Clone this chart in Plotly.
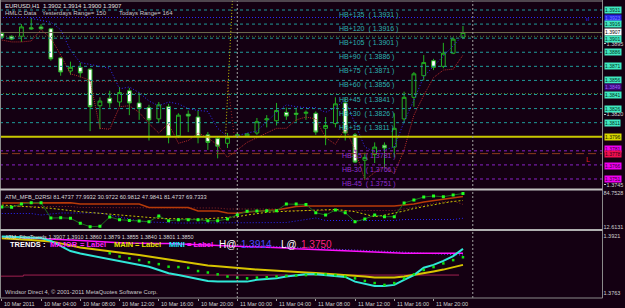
import plotly.graph_objects as go

W, H = 625, 308
BG = "#140012"
FONT = "Liberation Sans, Arial, sans-serif"

def px(x):
    return x / W

def py(y):
    return 1 - y / H

# ---------------- data ----------------
bars = list(range(48))
open_ = [1.3906, 1.3903, 1.3903, 1.3912, 1.3913, 1.3911, 1.3880, 1.3866, 1.3870, 1.3868,
         1.3829, 1.3837, 1.3833, 1.3845, 1.3832, 1.3827, 1.3815, 1.3828, 1.3797, 1.3820,
         1.3817, 1.3798, 1.3794, 1.3789, 1.3797, 1.3797, 1.3800, 1.3814, 1.3813, 1.3822,
         1.3821, 1.3821, 1.3821, 1.3805, 1.3810, 1.3832, 1.3798, 1.3771, 1.3777, 1.3787,
         1.3785, 1.3815, 1.3838, 1.3861, 1.3877, 1.3871, 1.3885, 1.3902]
high = [1.3908, 1.3904, 1.3916, 1.3923, 1.3916, 1.3912, 1.3881, 1.3876, 1.3875, 1.3869,
        1.3838, 1.3845, 1.3849, 1.3848, 1.3843, 1.3830, 1.3833, 1.3831, 1.3821, 1.3824,
        1.3824, 1.3801, 1.3796, 1.3800, 1.3800, 1.3800, 1.3816, 1.3819, 1.3832, 1.3827,
        1.3827, 1.3824, 1.3823, 1.3817, 1.3838, 1.3837, 1.3800, 1.3779, 1.3790, 1.3790,
        1.3821, 1.3844, 1.3865, 1.3883, 1.3879, 1.3896, 1.3902, 1.3914]
low = [1.3901, 1.3899, 1.3897, 1.3910, 1.3910, 1.3877, 1.3861, 1.3862, 1.3859, 1.3802,
       1.3804, 1.3827, 1.3828, 1.3819, 1.3814, 1.3792, 1.3811, 1.3789, 1.3795, 1.3801,
       1.3789, 1.3782, 1.3773, 1.3784, 1.3795, 1.3796, 1.3798, 1.3806, 1.3808, 1.3814,
       1.3812, 1.3814, 1.3798, 1.3787, 1.3806, 1.3792, 1.3768, 1.3751, 1.3768, 1.3763,
       1.3774, 1.3811, 1.3828, 1.3856, 1.3867, 1.3869, 1.3884, 1.3900]
close = [1.3902, 1.3900, 1.3913, 1.3911, 1.3911, 1.3879, 1.3865, 1.3870, 1.3864, 1.3828,
         1.3834, 1.3832, 1.3843, 1.3832, 1.3826, 1.3814, 1.3830, 1.3796, 1.3819, 1.3818,
         1.3796, 1.3790, 1.3786, 1.3795, 1.3798, 1.3799, 1.3812, 1.3815, 1.3824, 1.3818,
         1.3820, 1.3822, 1.3801, 1.3808, 1.3831, 1.3800, 1.3769, 1.3774, 1.3785, 1.3784,
         1.3805, 1.3838, 1.3863, 1.3875, 1.3870, 1.3885, 1.3900, 1.3907]

ma_blue = [None, None, None, 1.3922, 1.3920, 1.3918, 1.3910, 1.3888, 1.3875, 1.3873,
           1.3871, 1.3869, 1.3847, 1.3849, 1.3843, 1.3834, 1.3829, 1.3833, 1.3831, 1.3826,
           1.3824, 1.3823, 1.3805, 1.3796, 1.3797, 1.3800, 1.3802, 1.3812, 1.3822, 1.3830,
           1.3828, 1.3827, 1.3827, 1.3822, 1.3827, 1.3835, 1.3809, 1.3785, 1.3780, 1.3782,
           1.3785, 1.3812, 1.3835, 1.3860, 1.3871, 1.3882, 1.3894, 1.3904]
trail_red = [1.3899, 1.3897, 1.3897, 1.3898, 1.3910, 1.3901, 1.3883, 1.3863, 1.3860, 1.3856,
             1.3805, 1.3804, 1.3828, 1.3829, 1.3822, 1.3810, 1.3800, 1.3810, 1.3789, 1.3792,
             1.3800, 1.3795, 1.3787, 1.3774, 1.3782, 1.3790, 1.3795, 1.3800, 1.3805, 1.3805,
             1.3814, 1.3817, 1.3815, 1.3795, 1.3788, 1.3805, 1.3782, 1.3750, 1.3758, 1.3764,
             1.3757, 1.3782, 1.3819, 1.3840, 1.3859, 1.3867, 1.3868, 1.3883]

hb_up_levels = [1.3931, 1.3916, 1.3901, 1.3886, 1.3871, 1.3856, 1.3841, 1.3826, 1.3811]
hb_up_names = ["HB+135", "HB+120", "HB+105", "HB+90", "HB+75", "HB+60", "HB+45", "HB+30", "HB+15"]
hb_dn_levels = [1.3781, 1.3766, 1.3751]
hb_dn_names = ["HB-15", "HB-30", "HB-45"]
yellow_level = 1.3796
bid_level = 1.3907
red_dash_level = 1.3778
blue_dot_level = 1.3923
green_dot_levels = [1.3903, 1.3842]
prev_mid_level = 1.3855

axis_ticks_main = [1.3895, 1.3820, 1.3745]
box_prices = [1.3931, 1.3923, 1.3916, 1.3907, 1.3901, 1.3886, 1.3871, 1.3856, 1.3849,
              1.3841, 1.3826, 1.3811, 1.3796, 1.3781, 1.3778, 1.3766, 1.3751]
box_bg = ["#40e8c0", "#2424e8", "#40e8c0", "#ffffff", "#40e8c0", "#40e8c0", "#40e8c0",
          "#40e8c0", "#3c0878", "#40e8c0", "#40e8c0", "#40e8c0", "#d8d800", "#f000f0",
          "#f01050", "#f000f0", "#f000f0"]
box_fg = ["#003020", "#8080ff", "#003020", "#000000", "#003020", "#003020", "#003020",
          "#003020", "#a060ff", "#003020", "#003020", "#003020", "#202000", "#300030",
          "#300010", "#300030", "#300030"]
box_nudge = [0, 0, 0, 1, -1, 0, 0, 0, 0, 0, 0, 0, 0, 1.5, -0.5, -1.5, 0]

# panel 2 (ATM_MFB_D2RSI)
rsi_green = [55.4, 55.0, 61.9, 64.8, 64.5, 31.5, 31.9, 31.0, 20.0, 12.61,
             13.5, 33.7, 27.8, 26.1, 25.0, 23.5, 35.9, 25.6, 27.8, 27.5,
             27.9, 25.6, 25.4, 29.3, 38.7, 46.1, 46.7, 47.4, 47.2, 61.9,
             61.7, 60.8, 43.0, 38.0, 48.9, 43.0, 23.5, 29.3, 38.0, 34.3,
             34.5, 64.1, 70.6, 77.1, 79.3, 77.8, 81.47, 84.75]
rsi_brown = [64.1, 64.1, 64.1, 64.8, 64.8, 64.8, 64.8, 64.8, 61.9, 61.9,
             61.9, 61.9, 61.9, 61.9, 61.9, 54.3, 54.3, 54.3, 54.3, 54.3,
             46.7, 46.7, 46.7, 42.4, 41.7, 44.5, 46.7, 47.8, 48.9, 53.2,
             56.5, 57.6, 57.6, 57.6, 57.6, 57.6, 57.6, 57.6, 57.6, 57.6,
             57.6, 59.8, 61.9, 66.3, 69.1, 72.8, 76.1, 77.99]
rsi_yellow = [59.8, 58.5, 57.0, 55.4, 53.9, 52.6, 50.0, 47.2, 45.2, 43.5,
              41.5, 39.8, 38.0, 36.3, 34.3, 32.6, 30.9, 30.2, 29.6, 28.9,
              28.7, 30.0, 31.5, 33.0, 34.3, 38.0, 41.3, 43.9, 45.2, 46.1,
              46.9, 47.8, 48.9, 50.0, 50.2, 47.8, 45.2, 39.8, 34.3, 38.0,
              41.7, 46.7, 52.2, 56.5, 59.8, 64.1, 67.4, 69.73]
rsi_blue = [41.3, 41.3, 41.3, 41.3, 38.0, 40.2, 42.4, 42.4, 42.4, 42.4,
            42.4, 38.0, 33.7, 28.3, 25.0, 22.8, 21.7, 20.6, 20.6, 20.6,
            20.6, 20.6, 20.6, 20.6, 20.6, 21.7, 21.7, 21.7, 21.7, 21.7,
            25.0, 28.3, 31.5, 26.1, 26.1, 26.1, 26.1, 26.1, 26.1, 26.1,
            26.1, 28.3, 28.3, 28.3, 28.3, 28.3, 28.3, 30.97]
rsi_red = [56.5, 56.5, 56.5, 56.5, 56.5, 56.5, 56.5, 56.5, 54.3, 54.3,
           54.3, 54.3, 54.3, 54.3, 54.3, 53.2, 53.2, 53.2, 53.2, 53.2,
           53.2, 53.2, 53.2, 51.1, 51.1, 51.1, 51.1, 51.1, 51.1, 47.8,
           47.8, 47.8, 47.8, 47.8, 47.8, 47.8, 47.8, 47.8, 47.8, 47.8,
           47.8, 51.1, 55.4, 59.8, 63.0, 66.3, 68.5, 60.98]

# panel 3 (ATM_FiboTrends)
ft_cyan = [1.3919, 1.3918, 1.3917, 1.3916, 1.3915, 1.3907, 1.3893, 1.3879, 1.3872, 1.3867,
           1.3861, 1.3856, 1.3852, 1.3848, 1.3843, 1.3836, 1.3827, 1.3818, 1.3813, 1.3808,
           1.3801, 1.3797, 1.3795, 1.3795, 1.3795, 1.3795, 1.3800, 1.3802, 1.3804, 1.3809,
           1.3813, 1.3815, 1.3815, 1.3813, 1.3812, 1.3808, 1.3795, 1.3789, 1.3783, 1.3783,
           1.3786, 1.3800, 1.3813, 1.3833, 1.3841, 1.3852, 1.3865, 1.3885]
ft_yellow = [1.3914, 1.3913, 1.3911, 1.3909, 1.3907, 1.3905, 1.3900, 1.3894, 1.3889, 1.3885,
             1.3882, 1.3879, 1.3876, 1.3872, 1.3868, 1.3864, 1.3860, 1.3856, 1.3850, 1.3846,
             1.3842, 1.3839, 1.3837, 1.3834, 1.3832, 1.3830, 1.3828, 1.3826, 1.3824, 1.3823,
             1.3822, 1.3820, 1.3819, 1.3817, 1.3816, 1.3815, 1.3812, 1.3809, 1.3806, 1.3806,
             1.3806, 1.3809, 1.3813, 1.3817, 1.3823, 1.3828, 1.3834, 1.3841]
ft_magenta = [1.3918, 1.3917, 1.3916, 1.3915, 1.3913, 1.3912, 1.3911, 1.3909, 1.3908, 1.3907,
              1.3905, 1.3904, 1.3902, 1.3901, 1.3900, 1.3900, 1.3900, 1.3900, 1.3899, 1.3898,
              1.3897, 1.3896, 1.3895, 1.3894, 1.3894, 1.3892, 1.3891, 1.3890, 1.3888, 1.3887,
              1.3885, 1.3884, 1.3883, 1.3882, 1.3880, 1.3879, 1.3878, 1.3876, 1.3875, 1.3874,
              1.3873, 1.3873, 1.3873, 1.3873, 1.3873, 1.3873, 1.3873, 1.3873]
ft_purple = [None] * 24 + [1.3896, 1.3895, 1.3894, 1.3893, 1.3891, 1.3890, 1.3889, 1.3888,
                           1.3887, 1.3886, 1.3884, 1.3883, 1.3882, 1.3881, 1.3880, 1.3878,
                           1.3877, 1.3876, 1.3874, 1.3873, 1.3872, 1.3870, 1.3869, 1.3868]
ft_green = [None] * 11 + [1.3873, 1.3864, 1.3859, 1.3854, 1.3848, 1.3843, 1.3836, 1.3835, 1.3833,
                          1.3824, 1.3820, 1.3815, 1.3809, 1.3806, 1.3804, 1.3806, 1.3807, 1.3809,
                          1.3811, 1.3812, 1.3813, 1.3815, 1.3815, 1.3813, 1.3809, 1.3804, 1.3797,
                          1.3791, 1.3786, 1.3791, 1.3804, 1.3815, 1.3827, 1.3835, 1.3845, 1.3854,
                          1.3862]
ft_pivot = 1.3813

time_ticks = [0, 4, 8, 12, 16, 20, 24, 28, 32, 36, 40, 44]
time_labels = ["10 Mar 2011", "10 Mar 04:00", "10 Mar 08:00", "10 Mar 12:00", "10 Mar 16:00",
               "10 Mar 20:00", "11 Mar 00:00", "11 Mar 04:00", "11 Mar 08:00", "11 Mar 12:00",
               "11 Mar 16:00", "11 Mar 20:00"]
day_separators = [24, 48]

# ---------------- figure ----------------
XR = [-0.183, 61.22]
XD = [0, 602.5 / W]
fig = go.Figure()

# main panel
fig.add_trace(go.Candlestick(
    x=bars, open=open_, high=high, low=low, close=close,
    increasing=dict(line=dict(color="#22b022", width=1), fillcolor=BG),
    decreasing=dict(line=dict(color="#22b022", width=1), fillcolor="#ffffff"),
    whiskerwidth=0, xaxis="x", yaxis="y", hoverinfo="skip"))
fig.add_trace(go.Scatter(x=bars, y=ma_blue, mode="lines", xaxis="x", yaxis="y",
                         line=dict(color="#3030ff", width=1, dash="1px,2px")))
fig.add_trace(go.Scatter(x=bars, y=trail_red, mode="lines", xaxis="x", yaxis="y",
                         line=dict(color="#b02a2a", width=1, dash="1px,1px")))

# panel 2
for vals, col, dash, wdt in [(rsi_red, "#902828", "1px,2px", 1), (rsi_blue, "#2828ff", "1px,2px", 1),
                             (rsi_yellow, "#c8c800", "2px,2px", 1), (rsi_brown, "#b83a08", "solid", 1.5)]:
    fig.add_trace(go.Scatter(x=bars, y=vals, mode="lines", xaxis="x2", yaxis="y2",
                             line=dict(color=col, width=wdt, dash=dash)))
fig.add_trace(go.Scatter(x=bars, y=rsi_green, mode="lines+markers", xaxis="x2", yaxis="y2",
                         line=dict(color="#1f6a1f", width=1),
                         marker=dict(color="#20ff20", size=3, symbol="square")))

# panel 3
fig.add_trace(go.Scatter(x=[-0.2, 2.2, 2.2, 46.6], y=[ft_pivot - 0.0003, ft_pivot - 0.0003, ft_pivot, ft_pivot],
                         mode="lines", xaxis="x3", yaxis="y3",
                         line=dict(color="#a02050", width=1)))
fig.add_trace(go.Scatter(x=bars, y=ft_purple, mode="lines", xaxis="x3", yaxis="y3",
                         line=dict(color="#6040ff", width=1, dash="1px,2px")))
fig.add_trace(go.Scatter(x=bars, y=ft_magenta, mode="lines", xaxis="x3", yaxis="y3",
                         line=dict(color="#ff10ff", width=1.5)))
fig.add_trace(go.Scatter(x=bars, y=ft_yellow, mode="lines", xaxis="x3", yaxis="y3",
                         line=dict(color="#d8c400", width=2)))
fig.add_trace(go.Scatter(x=bars, y=ft_cyan, mode="lines", xaxis="x3", yaxis="y3",
                         line=dict(color="#30e8d8", width=2)))
fig.add_trace(go.Scatter(x=bars, y=ft_green, mode="markers", xaxis="x3", yaxis="y3",
                         marker=dict(color="#10e010", size=2.5, symbol="square")))

shapes = []
# horizontal levels on main panel
for lv in hb_up_levels:
    shapes.append(dict(type="line", xref="paper", yref="y", x0=0, x1=XD[1], y0=lv, y1=lv,
                       line=dict(color="#1f9a9a", width=1, dash="3px,3px")))
for lv in green_dot_levels:
    shapes.append(dict(type="line", xref="paper", yref="y", x0=0, x1=XD[1], y0=lv, y1=lv,
                       line=dict(color="#4a7a2a", width=1, dash="1px,2px")))
for lv in hb_dn_levels:
    shapes.append(dict(type="line", xref="paper", yref="y", x0=0, x1=XD[1], y0=lv, y1=lv,
                       line=dict(color="#8a22c8", width=1, dash="3px,3px")))
shapes.append(dict(type="line", xref="paper", yref="y", x0=0, x1=XD[1], y0=blue_dot_level, y1=blue_dot_level,
                   line=dict(color="#2a2aff", width=1, dash="1px,2px")))
shapes.append(dict(type="line", xref="paper", yref="y", x0=0, x1=XD[1], y0=red_dash_level, y1=red_dash_level,
                   line=dict(color="#8c3a1c", width=1, dash="8px,4px")))
shapes.append(dict(type="line", xref="paper", yref="y", x0=0, x1=XD[1], y0=bid_level, y1=bid_level,
                   line=dict(color="#6e6a4e", width=1)))
shapes.append(dict(type="line", xref="paper", yref="y", x0=0, x1=XD[1], y0=yellow_level, y1=yellow_level,
                   line=dict(color="#c8c800", width=2)))
shapes.append(dict(type="line", xref="x", yref="y", x0=-0.2, x1=23.0, y0=prev_mid_level, y1=prev_mid_level,
                   line=dict(color="#a02828", width=1, dash="1px,2px")))
shapes.append(dict(type="line", xref="x", yref="y", x0=23.0, x1=23.7, y0=prev_mid_level, y1=yellow_level,
                   line=dict(color="#a02828", width=1, dash="1px,2px")))
shapes.append(dict(type="line", xref="x", yref="y", x0=22.8, x1=23.5, y0=yellow_level, y1=1.3941,
                   line=dict(color="#c8c800", width=1, dash="1px,2px")))
# day separators
for d in day_separators:
    shapes.append(dict(type="line", xref="x", yref="paper", x0=d, x1=d, y0=py(298), y1=py(1),
                       line=dict(color="#a0a0a0", width=1, dash="2px,2px")))
# frame
frame = [
    (0, 1, 602.5, 1, "#8a8a8a", 1),
    (0.5, 0, 0.5, 298, "#8a8a8a", 1),
    (602.5, 0, 602.5, 298, "#8a8a8a", 1),
    (0, 189.5, 602.5, 189.5, "#c0c0c0", 2),
    (0, 230, 602.5, 230, "#b0b0b0", 2),
    (0, 298, 602.5, 298, "#8a8a8a", 1),
]
for x0, y0, x1, y1, c, w in frame:
    shapes.append(dict(type="line", xref="paper", yref="paper", x0=px(x0), x1=px(x1),
                       y0=py(y0), y1=py(y1), line=dict(color=c, width=w)))

ann = []
def txt(x, y, s, color="#d0d0d0", size=6, xref="paper", yref="paper", **kw):
    ann.append(dict(x=x, y=y, xref=xref, yref=yref, text=s, showarrow=False,
                    xanchor=kw.pop("xanchor", "left"), yanchor=kw.pop("yanchor", "middle"),
                    font=dict(family=FONT, size=size, color=color), **kw))

txt(px(3), py(5.5), "EURUSD,H1  1.3902 1.3914 1.3900 1.3907", "#e0e0e0", 6)
txt(px(3), py(12.5), "HMLC Data", "#c8c8c8", 6)
txt(px(40), py(12.5), "Yesterdays Range= 150", "#c8c8c8", 6)
txt(px(117), py(12.5), "Todays Range= 164", "#c8c8c8", 6)

for lv, nm in zip(hb_up_levels, hb_up_names):
    txt(px(337), lv, f"{nm}  ( {lv:.4f} )", "#2ab0b0", 7, yref="y", yshift=-5)
for lv, nm in zip(hb_dn_levels, hb_dn_names):
    txt(px(340), lv, f"{nm}  ( {lv:.4f} )", "#9030d0", 7, yref="y", yshift=-5)

for p, bg, fg, nd in zip(box_prices, box_bg, box_fg, box_nudge):
    ann.append(dict(x=px(603.5), y=p, xref="paper", yref="y", text=f"{p:.4f}", showarrow=False,
                    xanchor="left", yanchor="middle", bgcolor=bg, borderpad=0, yshift=nd,
                    font=dict(family=FONT, size=5, color=fg)))

txt(px(584), 1.3921, "ıı", "#3030ff", 6, yref="y")
txt(px(584), 1.3772, "L", "#e02020", 7, yref="y")

txt(px(3), py(197), "ATM_MFB_D2RSI 81.4737 77.9932 30.9722 60.9812 47.9841 81.4737 69.7333", "#d8d8d8", 5.7)
txt(px(3), py(236.5), "ATM_FiboTrends 1.3907 1.3910 1.3860 1.3879 1.3855 1.3840 1.3801 1.3850", "#d8d8d8", 5.5)

trend_parts = [(8, "TRENDS :", "#ffffff", 7.5), (48, "MAJOR", "#ff20ff", 7.5), (78, "= Label", "#ff20ff", 7.5),
               (112, "MAIN", "#e0e000", 7.5), (133, "= Label", "#e0e000", 7.5), (167, "MINI", "#20e8ff", 7.5),
               (185, "= Label", "#ff20ff", 7.5), (217, "H@", "#ffffff", 10), (239, "1.3914", "#4848ff", 10),
               (279, "L@", "#ffffff", 10), (299, "1.3750", "#ff2080", 10)]
for x, s, c, sz in trend_parts:
    txt(px(x), py(244), f"<b>{s}</b>" if sz < 9 else s, c, sz)

txt(px(3), py(291.5), "Windsor Direct 4, © 2001-2011 MetaQuotes Software Corp.", "#c8c8c8", 5.8)

for t, lab in zip(time_ticks, time_labels):
    txt(t, py(304), lab, "#d0d0d0", 5.5, xref="x3", xshift=0.5)

axis_common = dict(showgrid=False, zeroline=False, showline=False, fixedrange=True)
fig.update_layout(
    width=W, height=H, margin=dict(l=0, r=0, t=0, b=0),
    paper_bgcolor=BG, plot_bgcolor=BG, showlegend=False, hovermode=False,
    boxgap=0.45,
    font=dict(family=FONT, color="#d0d0d0", size=6),
    xaxis=dict(domain=XD, range=XR, anchor="y", showticklabels=False, rangeslider=dict(visible=False), **axis_common),
    xaxis2=dict(domain=XD, range=XR, anchor="y2", showticklabels=False, matches="x", **axis_common),
    xaxis3=dict(domain=XD, range=XR, anchor="y3", showticklabels=False, matches="x",
                tickvals=time_ticks, ticks="outside", ticklen=2, tickcolor="#a0a0a0", **axis_common),
    yaxis=dict(domain=[py(188), py(1)], range=[1.37414, 1.39406], anchor="x", side="right",
               tickvals=axis_ticks_main, ticktext=[f"{v:.4f}" for v in axis_ticks_main],
               ticks="outside", ticklen=2, tickcolor="#c0c0c0",
               tickfont=dict(size=5.5, color="#d0d0d0", family=FONT), **axis_common),
    yaxis2=dict(domain=[py(229), py(190)], range=[7.61, 92.36], anchor="x2", side="right",
                tickvals=[84.7528, 12.6131], ticktext=["84.7528", "12.6131"],
                ticks="", tickfont=dict(size=5.5, color="#d0d0d0", family=FONT), **axis_common),
    yaxis3=dict(domain=[py(298), py(231)], range=[1.3750, 1.3934], anchor="x3", side="right",
                tickvals=[1.3921, 1.3763], ticktext=["1.3921", "1.3763"],
                ticks="", tickfont=dict(size=5.5, color="#d0d0d0", family=FONT), **axis_common),
    shapes=shapes, annotations=ann,
)

fig.write_html("out.html")
